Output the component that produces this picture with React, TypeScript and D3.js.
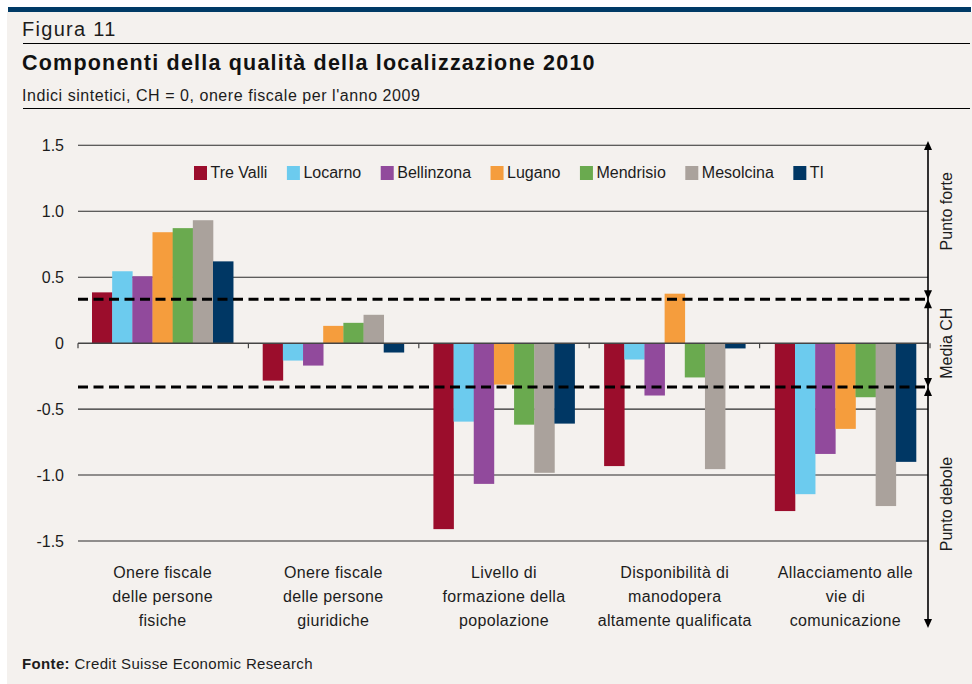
import React, { useEffect } from "react";
import * as d3 from "d3";

const categories = [
  ["Onere fiscale", "delle persone", "fisiche"],
  ["Onere fiscale", "delle persone", "giuridiche"],
  ["Livello di", "formazione della", "popolazione"],
  ["Disponibilità di", "manodopera", "altamente qualificata"],
  ["Allacciamento alle", "vie di", "comunicazione"],
];
const series = ["Tre Valli", "Locarno", "Bellinzona", "Lugano", "Mendrisio", "Mesolcina", "TI"];
const colors = ["#9b0d2c", "#6ccbee", "#914a9c", "#f59d3d", "#6aaa4f", "#aaa29c", "#003764"];

const treValli = [0.385, -0.284, -1.41, -0.932, -1.273];
const locarno = [0.545, -0.132, -0.595, -0.124, -1.145];
const bellinzona = [0.507, -0.17, -1.067, -0.397, -0.84];
const lugano = [0.841, 0.131, -0.314, 0.375, -0.65];
const mendrisio = [0.872, 0.154, -0.618, -0.26, -0.41];
const mesolcina = [0.932, 0.215, -0.983, -0.955, -1.235];
const ti = [0.62, -0.071, -0.61, -0.04, -0.9];
const seriesValues = [treValli, locarno, bellinzona, lugano, mendrisio, mesolcina, ti];

const yTicks = [1.5, 1.0, 0.5, 0, -0.5, -1.0, -1.5];
const yTickLabels = ["1.5", "1.0", "0.5", "0", "-0.5", "-1.0", "-1.5"];
const thresholds = [1 / 3, -1 / 3];
const sideLabels = ["Punto forte", "Media CH", "Punto debole"];

const FONT = "'Liberation Sans', Arial, Helvetica, sans-serif";
const TEXT = "#1c1c1c";

function measure(text: string, size: number) {
  const c = document.createElement("canvas").getContext("2d");
  if (!c) return text.length * size * 0.5;
  c.font = `${size}px ${FONT}`;
  return c.measureText(text).width;
}

export default function App() {
  useEffect(() => {
    document.body.style.margin = "0";
  }, []);

  const W = 972;
  const H = 684;
  const left = 78;
  const right = 930;
  const axisRight = 928;

  const x0 = d3
    .scaleBand<number>()
    .domain(d3.range(categories.length))
    .range([left, right])
    .paddingInner(0.173)
    .paddingOuter(0.082);
  const x1 = d3.scaleBand<number>().domain(d3.range(series.length)).range([0, x0.bandwidth()]);
  const y = d3.scaleLinear().domain([-1.5, 1.5]).range([541, 145.3]);

  const boundaries = d3.range(categories.length + 1).map((i) => left + i * ((right - left) / categories.length));

  // legend layout
  let lx = 194;
  const legendItems = series.map((s, i) => {
    const item = { s, i, x: lx };
    lx += 16.5 + measure(s, 16) + 19.5;
    return item;
  });

  const arrow = (tipY: number, dir: number, key: string) => {
    const h = 9;
    const w = 4;
    const path = d3.path();
    path.moveTo(axisRight, tipY);
    path.lineTo(axisRight - w, tipY - dir * h);
    path.lineTo(axisRight + w, tipY - dir * h);
    path.closePath();
    return <path key={key} d={path.toString()} fill="#000" />;
  };

  const topY = 141;
  const botY = 628;

  return (
    <svg width={W} height={H} style={{ display: "block" }} fontFamily={FONT}>
      <rect x={0} y={0} width={W} height={H} fill="#fff" />
      <rect x={7} y={12} width={W - 7} height={H - 12} fill="#f4f1ee" />
      <rect x={8} y={7} width={963} height={5} fill="#003a66" />

      <text x={22} y={36} fontSize={20} fill={TEXT} letterSpacing={1.3}>Figura 11</text>
      <line x1={23} x2={970} y1={43.5} y2={43.5} stroke="#000" strokeWidth={1.2} />
      <text x={22} y={70} fontSize={21.5} fontWeight="bold" fill="#111" letterSpacing={1.2}>
        Componenti della qualità della localizzazione 2010
      </text>
      <text x={22} y={101} fontSize={16} fill={TEXT} letterSpacing={0.55}>
        Indici sintetici, CH = 0, onere fiscale per l'anno 2009
      </text>
      <line x1={23} x2={970} y1={108.5} y2={108.5} stroke="#000" strokeWidth={1.2} />

      {/* gridlines */}
      {yTicks.map((t, i) => (
        <g key={"g" + i}>
          {t !== 0 && (
            <line x1={left} x2={axisRight} y1={y(t)} y2={y(t)} stroke="#2b2b2b" strokeWidth={1.1} />
          )}
          <text x={64} y={y(t) + 6} fontSize={16} textAnchor="end" fill={TEXT}>
            {yTickLabels[i]}
          </text>
        </g>
      ))}

      {/* bars */}
      {categories.map((_, ci) => (
        <g key={"c" + ci} transform={`translate(${x0(ci)},0)`}>
          {seriesValues.map((vals, si) => {
            const v = vals[ci];
            return (
              <rect
                key={si}
                x={x1(si)}
                width={x1.bandwidth() + 0.3}
                y={Math.min(y(v), y(0))}
                height={Math.abs(y(v) - y(0))}
                fill={colors[si]}
              />
            );
          })}
        </g>
      ))}

      {/* zero axis */}
      <line x1={left} x2={axisRight} y1={y(0)} y2={y(0)} stroke="#444" strokeWidth={1.5} />
      {boundaries.map((bx, i) => (
        <line key={"t" + i} x1={bx} x2={bx} y1={y(0)} y2={y(0) + 5} stroke="#444" strokeWidth={1.2} />
      ))}

      {/* thresholds */}
      {thresholds.map((t, i) => (
        <line
          key={"d" + i}
          x1={left}
          x2={axisRight}
          y1={y(t)}
          y2={y(t)}
          stroke="#000"
          strokeWidth={3}
          strokeDasharray="10,5.5"
        />
      ))}

      {/* legend */}
      {legendItems.map((it) => (
        <g key={"l" + it.i}>
          <rect x={it.x} y={166} width={13} height={14} fill={colors[it.i]} />
          <text x={it.x + 16.5} y={178} fontSize={16} fill={TEXT}>
            {it.s}
          </text>
        </g>
      ))}

      {/* category labels */}
      {categories.map((lines, ci) => (
        <text
          key={"cl" + ci}
          x={(x0(ci) as number) + x0.bandwidth() / 2}
          y={578}
          fontSize={16}
          letterSpacing={0.35}
          textAnchor="middle"
          fill={TEXT}
        >
          {lines.map((l, li) => (
            <tspan key={li} x={(x0(ci) as number) + x0.bandwidth() / 2} dy={li === 0 ? 0 : 24}>
              {l}
            </tspan>
          ))}
        </text>
      ))}

      {/* right side scale */}
      <line x1={axisRight} x2={axisRight} y1={topY + 4} y2={botY - 4} stroke="#000" strokeWidth={1.6} />
      {arrow(topY, -1, "a1")}
      {arrow(y(1 / 3), 1, "a2")}
      {arrow(y(1 / 3), -1, "a3")}
      {arrow(y(-1 / 3), 1, "a4")}
      {arrow(y(-1 / 3), -1, "a5")}
      {arrow(botY, 1, "a6")}

      {[y(1.0), y(0), y(-1.22)].map((cy, i) => (
        <text
          key={"s" + i}
          transform={`translate(952,${cy}) rotate(-90)`}
          fontSize={16}
          textAnchor="middle"
          fill={TEXT}
        >
          {sideLabels[i]}
        </text>
      ))}

      {/* footer */}
      <text x={22} y={669} fontSize={15} fill={TEXT} letterSpacing={0.35}>
        <tspan fontWeight="bold">Fonte:</tspan>
        <tspan> Credit Suisse Economic Research</tspan>
      </text>
    </svg>
  );
}
